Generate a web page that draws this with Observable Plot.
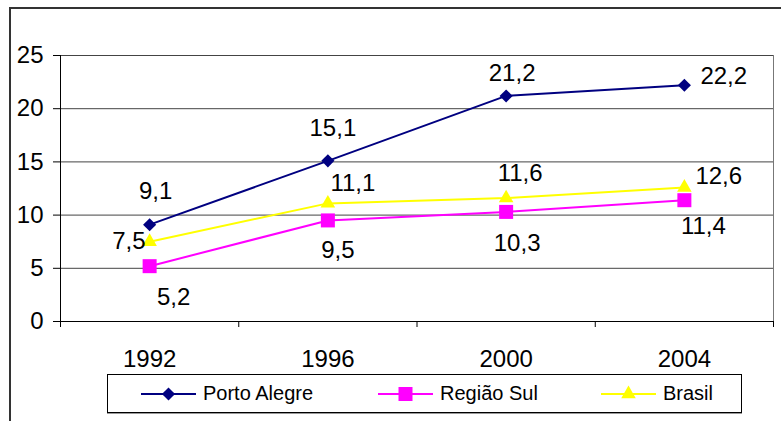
<!DOCTYPE html>
<html>
<head>
<meta charset="utf-8">
<script src="https://cdn.jsdelivr.net/npm/d3@7"></script>
<script src="https://cdn.jsdelivr.net/npm/@observablehq/plot@0.6"></script>
<style>
  html, body { margin: 0; padding: 0; background: #fff; }
  #wrap { position: relative; width: 781px; height: 421px; overflow: hidden; font-family: "Liberation Sans", Arial, sans-serif; }
  #frame { position: absolute; left: 9px; top: 7px; width: 775px; height: 440px; border: 2px solid #333; box-sizing: border-box; pointer-events: none; }
  #legend { position: absolute; left: 107px; top: 374px; width: 635px; height: 39px; border: 1px solid #000; box-sizing: border-box; background: #fff; box-shadow: 0 1px 0 #999; }
  .item { position: absolute; top: 0; height: 37px; display: flex; align-items: center; font-size: 20px; color: #000; }
  .item svg { margin-right: 7px; }
</style>
</head>
<body>
<div id="wrap"><div id="chart"></div><div id="frame"></div><div id="legend"></div></div>
<script>
// ---- data ----
const years = [1992, 1996, 2000, 2004];
const seriesNames = ["Porto Alegre", "Região Sul", "Brasil"];
const portoAlegre = [9.1, 15.1, 21.2, 22.2];
const regiaoSul = [5.2, 9.5, 10.3, 11.4];
const brasil = [7.5, 11.1, 11.6, 12.6];
const yTicks = [0, 5, 10, 15, 20, 25];

// ---- styling / layout ----
const colors = ["#000080", "#FF00FF", "#FFFF00"];
const symbols = ["diamond2", "square", "triangle"];
const radii = [5.9, 7.9, 5.4];
// label placement per series per point: [dx, dy, anchor]
const labelPlacement = [
  [[6, -33, "middle"], [5, -33, "middle"], [6, -23, "middle"], [16, -9, "start"]],
  [[24, 31, "middle"], [10, 30, "middle"], [11, 31, "middle"], [19, 26, "middle"]],
  [[-4, 0, "end"], [25, -20, "middle"], [14, -25, "middle"], [11, -11, "start"]]
];

const valuesBySeries = [portoAlegre, regiaoSul, brasil];
const rows = [];
seriesNames.forEach((s, i) => years.forEach((yr, j) => rows.push({series: s, si: i, pj: j, year: yr, value: valuesBySeries[i][j]})));

const step = years[1] - years[0];
const boundaries = [years[0] - step / 2, ...years.map(y => y + step / 2)];
const fmt = v => v.toFixed(1).replace(".", ",");

const marks = [
  Plot.gridY(yTicks.slice(1), {stroke: "#444", strokeOpacity: 1}),
  Plot.ruleX([boundaries[boundaries.length - 1]], {stroke: "#777", strokeWidth: 1}),
  Plot.ruleX([boundaries[0]], {stroke: "#000"}),
  Plot.ruleY([0], {stroke: "#000"}),
  Plot.axisY(yTicks, {tickSize: 7, tickPadding: 10, label: null, fontSize: 24, stroke: "#000"}),
  Plot.axisX(boundaries, {tickSize: 6, tickFormat: () => "", label: null, stroke: "#000"}),
  Plot.axisX(years, {tickSize: 0, tickPadding: 28, tickFormat: d => String(d), label: null, fontSize: 24})
];
seriesNames.forEach((s, i) => {
  const d = rows.filter(r => r.si === i);
  marks.push(Plot.line(d, {x: "year", y: "value", stroke: colors[i], strokeWidth: 2}));
});
seriesNames.forEach((s, i) => {
  const d = rows.filter(r => r.si === i);
  marks.push(Plot.dot(d, {x: "year", y: "value", fill: colors[i], stroke: "none", symbol: symbols[i], r: radii[i]}));
});
rows.forEach(r => {
  const [dx, dy, anchor] = labelPlacement[r.si][r.pj];
  marks.push(Plot.text([r], {x: "year", y: "value", text: d => fmt(d.value), dx, dy, textAnchor: anchor, lineAnchor: "middle", fontSize: 24, fill: "#000"}));
});

const chart = Plot.plot({
  width: 781,
  height: 421,
  marginTop: 55,
  marginBottom: 100,
  marginLeft: 60,
  marginRight: 8,
  style: {fontFamily: "'Liberation Sans', Arial, sans-serif", fontSize: "24px", color: "#000", background: "#fff", overflow: "visible"},
  x: {domain: [boundaries[0], boundaries[boundaries.length - 1]]},
  y: {domain: [yTicks[0], yTicks[yTicks.length - 1]]},
  marks
});
document.getElementById("chart").appendChild(chart);

// ---- legend ----
const legend = document.getElementById("legend");
const itemLeft = [33, 270, 493];
seriesNames.forEach((s, i) => {
  const item = document.createElement("div");
  item.className = "item";
  item.style.left = itemLeft[i] + "px";
  const sym = d3.symbol().type(
    i === 0 ? d3.symbolDiamond2 : i === 1 ? d3.symbolSquare : d3.symbolTriangle
  ).size(Math.PI * radii[i] * radii[i])();
  item.innerHTML = `<svg width="55" height="20"><line x1="0" x2="55" y1="10" y2="10" stroke="${colors[i]}" stroke-width="2"/><path d="${sym}" transform="translate(27.5,10)" fill="${colors[i]}"/></svg><span>${s}</span>`;
  legend.appendChild(item);
});
</script>
</body>
</html>
